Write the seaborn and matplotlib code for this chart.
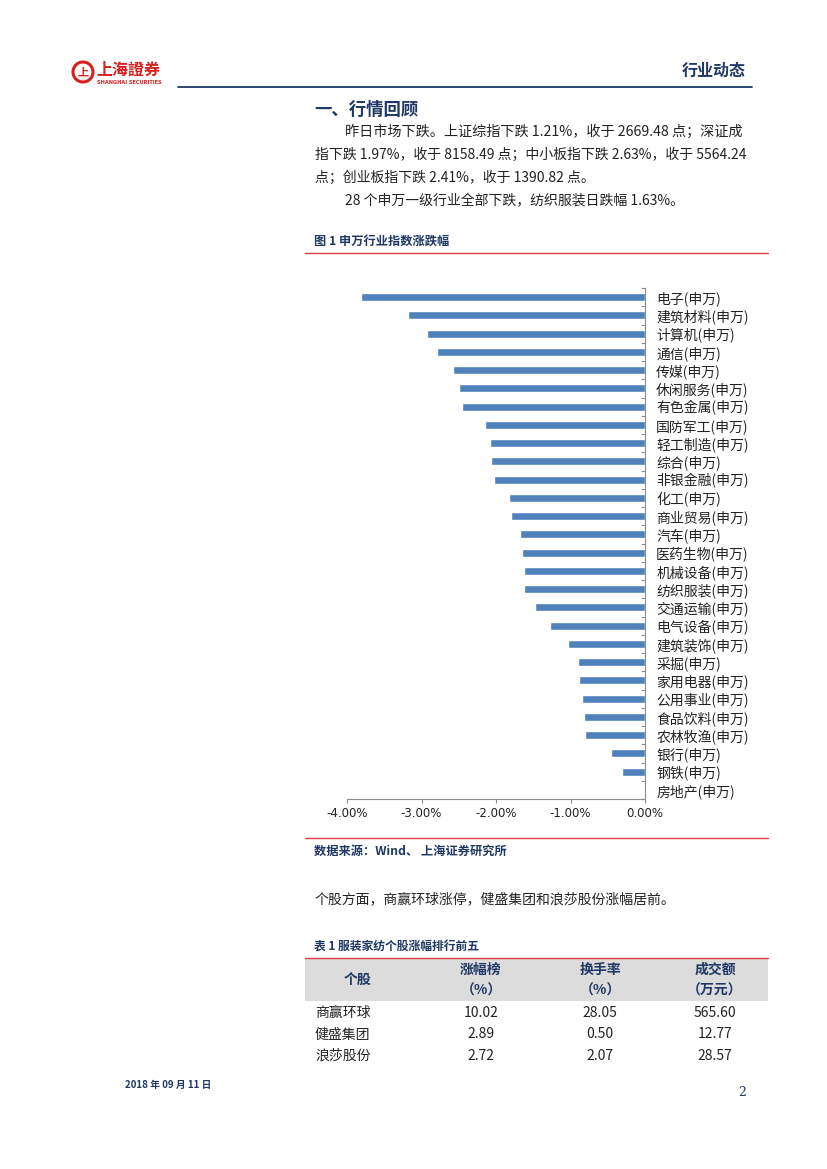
import numpy as np
import pandas as pd
import matplotlib
matplotlib.use("Agg")
import matplotlib.pyplot as plt
from matplotlib.lines import Line2D
from matplotlib.patches import Rectangle, Ellipse
import seaborn as sns

# 申万一级行业日涨跌幅（%）
industries = ["电子(申万)", "建筑材料(申万)", "计算机(申万)", "通信(申万)", "传媒(申万)",
              "休闲服务(申万)", "有色金属(申万)", "国防军工(申万)", "轻工制造(申万)", "综合(申万)",
              "非银金融(申万)", "化工(申万)", "商业贸易(申万)", "汽车(申万)", "医药生物(申万)",
              "机械设备(申万)", "纺织服装(申万)", "交通运输(申万)", "电气设备(申万)", "建筑装饰(申万)",
              "采掘(申万)", "家用电器(申万)", "公用事业(申万)", "食品饮料(申万)", "农林牧渔(申万)",
              "银行(申万)", "钢铁(申万)", "房地产(申万)"]
changes = [-3.81, -3.18, -2.93, -2.79, -2.58, -2.49, -2.45, -2.15, -2.08, -2.07,
           -2.03, -1.82, -1.80, -1.68, -1.65, -1.62, -1.63, -1.48, -1.27, -1.03,
           -0.90, -0.88, -0.85, -0.82, -0.81, -0.45, -0.31, -0.01]
x_ticks = [-4, -3, -2, -1, 0]
x_ticklabels = ["-4.00%", "-3.00%", "-2.00%", "-1.00%", "0.00%"]

# 表1 服装家纺个股涨幅排行
stocks = ["商赢环球", "健盛集团", "浪莎股份"]
rise = ["10.02", "2.89", "2.72"]
turnover = ["28.05", "0.50", "2.07"]
amount = ["565.60", "12.77", "28.57"]

W, H = 827, 1169
NAVY = "#1F3864"
RED = "#E0393E"
BAR = "#4F81BD"
INK = "#222222"
FONT = ["Noto Sans CJK SC", "DejaVu Sans"]

sns.set_theme(style="white")
plt.rcParams["font.family"] = FONT
plt.rcParams["axes.unicode_minus"] = False

fig = plt.figure(figsize=(W / 100, H / 100), dpi=100)


def fx(x):
    return x / W


def fy(y):
    return 1 - y / H


def text(x, y, s, size=10, color=INK, weight="normal", ha="left", family=None):
    fig.text(fx(x), fy(y), s, fontsize=size, color=color, fontweight=weight,
             ha=ha, va="center", family=family or FONT)


def hline(x0, x1, y, color, lw=1.0):
    fig.add_artist(Line2D([fx(x0), fx(x1)], [fy(y), fy(y)], color=color, lw=lw,
                          transform=fig.transFigure))


# 页眉
fig.add_artist(Ellipse((fx(83), fy(72)), 20 / W, 20 / H, fill=False, ec="#D7201E", lw=2.2,
                       transform=fig.transFigure))
text(83, 72, "上", size=8, color="#D7201E", weight="bold", ha="center")
text(96, 70, "上海證券", size=11.5, color="#D7201E", weight="bold")
text(97, 83, "SHANGHAI SECURITIES", size=3.6, color="#D7201E", weight="bold", family=["DejaVu Sans"])
text(746, 71, "行业动态", size=11.5, color=NAVY, weight="bold", ha="right")
hline(178, 752, 87, NAVY, lw=1.3)

# 正文
text(314, 110, "一、行情回顾", size=12.5, color=NAVY, weight="bold")
text(345, 132, "昨日市场下跌。上证综指下跌 1.21%，收于 2669.48 点；深证成", size=10.2)
text(315, 155, "指下跌 1.97%，收于 8158.49 点；中小板指下跌 2.63%，收于 5564.24", size=10)
text(315, 178, "点；创业板指下跌 2.41%，收于 1390.82 点。", size=10)
text(345, 200, "28 个申万一级行业全部下跌，纺织服装日跌幅 1.63%。", size=10)

text(314, 242, "图 1 申万行业指数涨跌幅", size=8.8, color=NAVY, weight="bold")
hline(305, 768, 253, RED, lw=1.0)

# 图1
ax = fig.add_axes([fx(347), fy(799), fx(645) - fx(347), fy(288) - fy(799)])
df = pd.DataFrame({"industry": industries, "change": changes})
sns.barplot(data=df, x="change", y="industry", orient="h", color=BAR, width=0.43,
            saturation=1, ax=ax)
ax.set_xlim(-4, 0)
ax.set_ylim(len(industries) - 0.5, -0.5)
ax.set_xticks(x_ticks)
ax.set_xticklabels(x_ticklabels)
ax.set_xlabel("")
ax.set_ylabel("")
ax.yaxis.tick_right()
ax.set_yticks(np.arange(-0.5, len(industries), 1), minor=True)
ax.tick_params(axis="y", which="major", length=0, pad=8, labelsize=10, labelcolor=INK)
ax.tick_params(axis="y", which="minor", direction="in", length=3, width=0.8,
               color="#8C8C8C", right=True, left=False)
ax.tick_params(axis="x", which="major", direction="out", length=3, width=0.8,
               color="#8C8C8C", bottom=True, pad=3, labelsize=8.5, labelcolor=INK)
for lab in ax.get_xticklabels():
    lab.set_family(["DejaVu Sans"])
for side in ["top", "left"]:
    ax.spines[side].set_visible(False)
for side in ["right", "bottom"]:
    ax.spines[side].set_color("#8C8C8C")
    ax.spines[side].set_linewidth(0.8)

hline(305, 768, 838, RED, lw=1.0)
text(314, 851, "数据来源：Wind、 上海证券研究所", size=8.8, color=NAVY, weight="bold")

text(315, 899, "个股方面，商赢环球涨停，健盛集团和浪莎股份涨幅居前。", size=10)

# 表1
text(314, 947, "表 1 服装家纺个股涨幅排行前五", size=8.5, color=NAVY, weight="bold")
fig.add_artist(Rectangle((fx(305), fy(1001)), fx(768) - fx(305), (1001 - 958) / H,
                         fc="#DCDCDC", ec="none", transform=fig.transFigure))
hline(305, 768, 958, RED, lw=1.0)
text(358, 980, "个股", size=10, color=NAVY, weight="bold", ha="center")
col_x = [481, 600, 715]
for cx, top, bottom in zip(col_x, ["涨幅榜", "换手率", "成交额"], ["（%）", "（%）", "（万元）"]):
    text(cx, 970, top, size=10, color=NAVY, weight="bold", ha="center")
    text(cx, 991, bottom, size=10, color=NAVY, weight="bold", ha="center")
for i, name in enumerate(stocks):
    y = 1013 + i * 21.5
    text(315, y, name, size=10)
    for cx, v in zip(col_x, [rise[i], turnover[i], amount[i]]):
        text(cx, y, v, size=10, ha="center")

# 页脚
text(125, 1085, "2018 年 09 月 11 日", size=7, color=NAVY, weight="bold")
text(746, 1092, "2", size=9, color=NAVY, ha="right", family=["DejaVu Serif"])

fig.savefig("out.png", dpi=100)
